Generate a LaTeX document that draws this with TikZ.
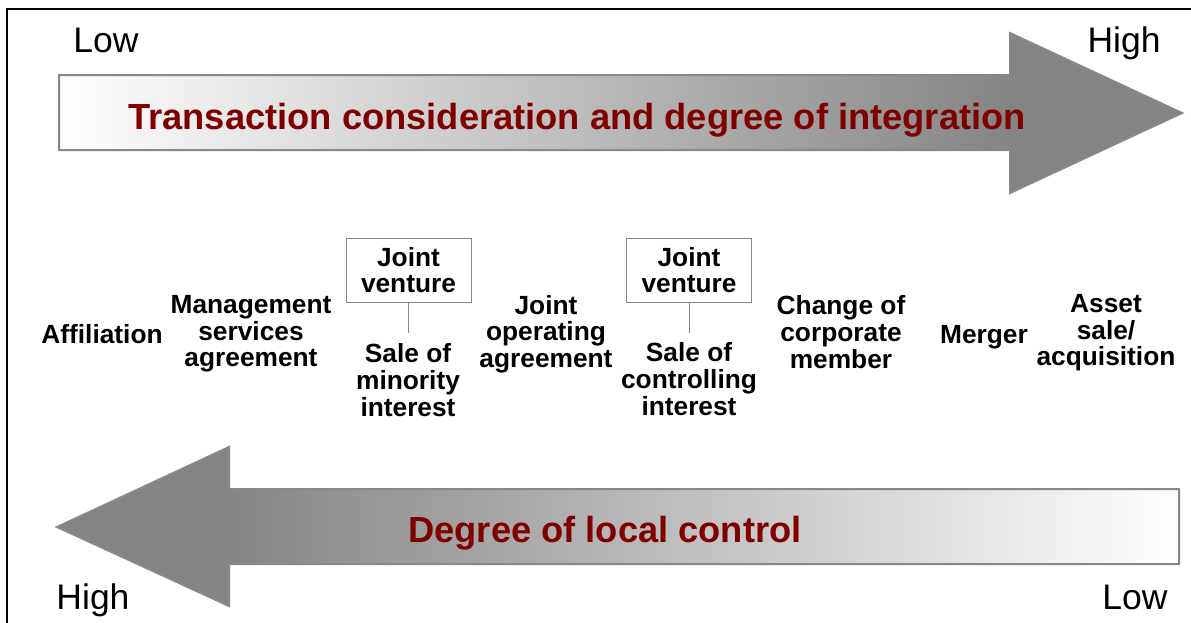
\documentclass[tikz,border=0pt]{standalone}
\usepackage{fontspec}
\setmainfont{Liberation Sans}
\definecolor{darkred}{HTML}{800000}
\definecolor{arrowgray}{HTML}{848484}
\definecolor{edgegray}{HTML}{888888}
\begin{document}
\begin{tikzpicture}[x=1pt,y=-1pt,
  lbl/.style={font=\bfseries\fontsize{26.3}{26.6}\selectfont, align=center, inner sep=0pt},
  endlbl/.style={font=\fontsize{35.5}{38}\selectfont, inner sep=0pt, anchor=base},
  title/.style={font=\bfseries\fontsize{36.3}{40}\selectfont, text=darkred, inner sep=0pt},
  jvbox/.style={draw=edgegray, line width=1pt, minimum width=125pt, minimum height=64pt, inner sep=0pt},
  link/.style={draw=edgegray, line width=1pt},
  arrowline/.style={draw=edgegray, line width=2pt}]
\useasboundingbox (0,0) rectangle (1191,622);
\begin{scope}
\clip (0,0) rectangle (1191,622);
\draw[line width=1.5pt] (7,640) -- (7,9) -- (1210,9);
\end{scope}
% top arrow
\fill[arrowgray] (1010,33) -- (1182,113) -- (1010,193) -- cycle;
\shade[left color=white, right color=arrowgray] (59,75) rectangle (1011,150);
\draw[arrowline]
  (59,75) -- (1010,75) -- (1010,33) -- (1182,113) -- (1010,193) -- (1010,150) -- (59,150) -- cycle;
\node[title] (t1) at (577,120) {Transaction consideration and degree of integration};
% bottom arrow
\fill[arrowgray] (229,447) -- (57,527) -- (229,606) -- cycle;
\shade[right color=white, left color=arrowgray] (228,489) rectangle (1179,564);
\draw[arrowline]
  (1179,489) -- (229,489) -- (229,447) -- (57,527) -- (229,606) -- (229,564) -- (1179,564) -- cycle;
\node[title] (t2) at (605,533) {Degree of local control};
% scale labels
\node[endlbl] (lowT) at (106,52) {Low};
\node[endlbl] (highT) at (1124,52) {High};
\node[endlbl] (highB) at (93,609) {High};
\node[endlbl] (lowB) at (1135,609) {Low};
% items
\node[lbl] (aff) at (102,334) {Affiliation};
\node[lbl] (msa) at (251,334) {Management\\services\\agreement};
\node[jvbox] (jv1) at (408.5,270) {};
\node[lbl] (jv1t) at (408.5,270) {Joint\\venture};
\node[lbl] (smi) at (408,380) {Sale of\\minority\\interest};
\node[lbl] (joa) at (546,334) {Joint\\operating\\agreement};
\node[jvbox] (jv2) at (689,270) {};
\node[lbl] (jv2t) at (689,270) {Joint\\venture};
\node[lbl] (sci) at (689,379) {Sale of\\controlling\\interest};
\node[lbl] (ccm) at (841,332) {Change of\\corporate\\member};
\node[lbl] (mer) at (984,337) {Merger};
\node[lbl] (asa) at (1106,333) {Asset\\sale/\\acquisition};
\coordinate (e1) at (408.5,333);
\coordinate (e2) at (689,333);
\draw[link] (jv1.south) -- (e1);
\draw[link] (jv2.south) -- (e2);
\end{tikzpicture}
\end{document}
